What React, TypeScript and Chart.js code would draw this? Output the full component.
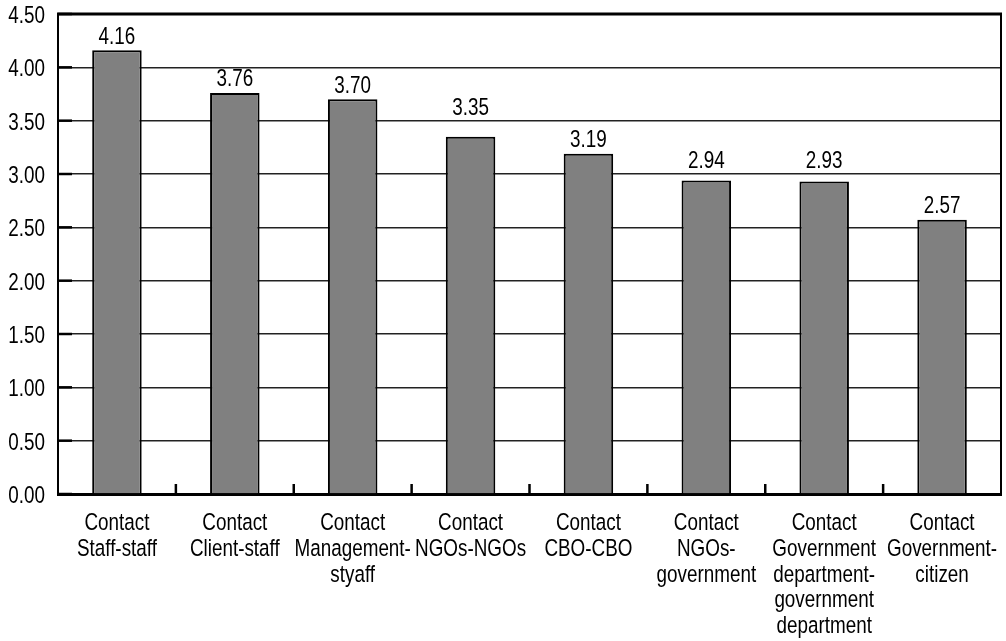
import React, { useEffect, useRef } from "react";
import { Chart, registerables } from "chart.js";

Chart.register(...registerables);

const categories: string[][] = [
  ["Contact", "Staff-staff"],
  ["Contact", "Client-staff"],
  ["Contact", "Management-", "styaff"],
  ["Contact", "NGOs-NGOs"],
  ["Contact", "CBO-CBO"],
  ["Contact", "NGOs-", "government"],
  ["Contact", "Government", "department-", "government", "department"],
  ["Contact", "Government-", "citizen"],
];

const values: number[] = [4.16, 3.76, 3.7, 3.35, 3.19, 2.94, 2.93, 2.57];

const yMin = 0;
const yMax = 4.5;
const yStep = 0.5;

// Condensed sans look: Liberation Sans squeezed horizontally
const FONT = '"Liberation Sans", Arial, sans-serif';
const FONT_SIZE = 24.5;
const SQUEEZE = 0.77;
const CAP = 17;
const LINE_GAP = 25.75;

function drawText(
  ctx: CanvasRenderingContext2D,
  text: string,
  x: number,
  y: number,
  align: CanvasTextAlign
) {
  ctx.save();
  ctx.translate(x, y);
  ctx.scale(SQUEEZE, 1);
  ctx.textAlign = align;
  ctx.textBaseline = "alphabetic";
  ctx.fillText(text, 0, 0);
  ctx.restore();
}

// Frame, inward y ticks, category separators and all axis text
const framePlugin = {
  id: "frame",
  afterDraw(chart: Chart) {
    const { ctx, chartArea } = chart;
    const { left, right, top, bottom } = chartArea;
    const yScale = chart.scales.y;
    const xScale = chart.scales.x;
    ctx.save();
    ctx.strokeStyle = "#000";
    ctx.lineWidth = 3;
    ctx.beginPath();
    ctx.moveTo(left - 1, top);
    ctx.lineTo(right + 1, top);
    ctx.stroke();
    ctx.lineWidth = 2;
    ctx.beginPath();
    ctx.moveTo(right, top);
    ctx.lineTo(right, bottom);
    ctx.stroke();
    ctx.lineWidth = 2.5;
    yScale.ticks.forEach((t) => {
      const y = yScale.getPixelForValue(t.value);
      ctx.beginPath();
      ctx.moveTo(left, y);
      ctx.lineTo(left + 14, y);
      ctx.stroke();
    });
    for (let i = 1; i < categories.length; i++) {
      const x = (xScale.getPixelForValue(i - 1) + xScale.getPixelForValue(i)) / 2;
      ctx.beginPath();
      ctx.moveTo(x, bottom);
      ctx.lineTo(x, bottom - 10);
      ctx.stroke();
    }

    ctx.fillStyle = "#000";
    ctx.font = `${FONT_SIZE}px ${FONT}`;
    // y tick labels
    yScale.ticks.forEach((t) => {
      const y = yScale.getPixelForValue(t.value);
      drawText(ctx, Number(t.value).toFixed(2), left - 13, y + CAP / 2 + 0.5, "right");
    });
    // category labels
    categories.forEach((lines, i) => {
      const x = xScale.getPixelForValue(i);
      lines.forEach((line, j) => {
        drawText(ctx, line, x, bottom + 36 + j * LINE_GAP, "center");
      });
    });
    ctx.restore();
  },
};

// Value labels above each bar, lifted clear of any gridline they would cross
const valueLabelPlugin = {
  id: "valueLabels",
  afterDatasetsDraw(chart: Chart) {
    const { ctx } = chart;
    const yScale = chart.scales.y;
    const gridYs = yScale.ticks.map((t) => yScale.getPixelForValue(t.value));
    const meta = chart.getDatasetMeta(0);
    ctx.save();
    ctx.fillStyle = "#000";
    ctx.font = `${FONT_SIZE}px ${FONT}`;
    meta.data.forEach((el: any, i: number) => {
      let base = el.y - 6.5;
      const hit = gridYs.find((g) => g >= base - CAP - 1 && g <= base + 1);
      if (hit !== undefined) base = hit - 6;
      drawText(ctx, values[i].toFixed(2), el.x, base, "center");
    });
    ctx.restore();
  },
};

export default function App() {
  const canvasRef = useRef<HTMLCanvasElement | null>(null);

  useEffect(() => {
    if (!canvasRef.current) return;

    const chart = new Chart(canvasRef.current, {
      type: "bar",
      data: {
        labels: categories,
        datasets: [
          {
            data: values,
            backgroundColor: "#808080",
            borderColor: "#000",
            borderWidth: 2,
            categoryPercentage: 1,
            barPercentage: 0.42,
          },
        ],
      },
      options: {
        animation: false,
        responsive: true,
        maintainAspectRatio: false,
        layout: { padding: { top: 14, right: 5, left: 0, bottom: 0 } },
        plugins: {
          legend: { display: false },
          tooltip: { enabled: false },
        },
        scales: {
          x: {
            grid: { display: false, drawTicks: false },
            border: { display: true, color: "#000", width: 3 },
            ticks: { display: false, autoSkip: false },
            afterFit(scale: any) {
              scale.height = 147;
              scale.paddingLeft = 0;
              scale.paddingRight = 0;
            },
          },
          y: {
            min: yMin,
            max: yMax,
            grid: { color: "#222", lineWidth: 1.5, drawTicks: false },
            border: { display: true, color: "#000", width: 2 },
            ticks: { display: false, stepSize: yStep },
            afterFit(scale: any) {
              scale.width = 58;
              scale.paddingTop = 0;
              scale.paddingBottom = 0;
            },
          },
        },
      },
      plugins: [framePlugin, valueLabelPlugin],
    });
    return () => chart.destroy();
  }, []);

  return (
    <div
      style={{
        position: "fixed",
        left: 0,
        top: 0,
        width: 1006,
        height: 641,
        background: "#fff",
      }}
    >
      <canvas ref={canvasRef} />
    </div>
  );
}
